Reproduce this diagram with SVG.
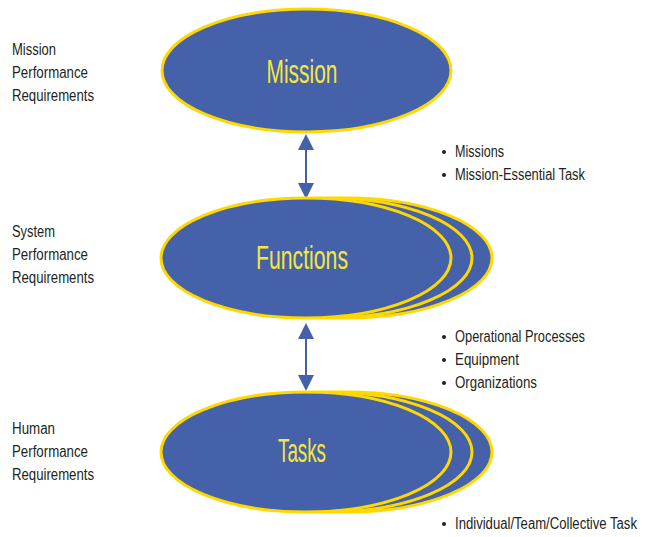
<svg xmlns="http://www.w3.org/2000/svg" width="646" height="537" viewBox="0 0 646 537">
<style>
.el{fill:#4561A9;stroke:#FFD800;stroke-width:3}
.t{font-family:"Liberation Sans",Arial,sans-serif;font-size:33px;fill:#F5E83A;text-anchor:middle}
.lab{font-family:"Liberation Sans",Arial,sans-serif;font-size:16px;fill:#231F20}
.conn{stroke:#4561A9;stroke-width:2;fill:none}
.head{fill:#4561A9}
.dot{fill:#231F20}
</style>
<rect width="646" height="537" fill="#fff"/>
<g id="connectors">
<line class="conn" x1="306" y1="145" x2="306" y2="190"/>
<polygon class="head" points="306,134 298,150 314,150"/>
<polygon class="head" points="306,199 298,183 314,183"/>
<line class="conn" x1="306" y1="335" x2="306" y2="380"/>
<polygon class="head" points="306,323 298,339 314,339"/>
<polygon class="head" points="306,391 298,375 314,375"/>
</g>
<g id="mission">
<ellipse class="el" cx="306.5" cy="70.5" rx="144.5" ry="61.5"/>
<text class="t" x="302" y="83" textLength="71" lengthAdjust="spacingAndGlyphs">Mission</text>
</g>
<g id="functions">
<ellipse class="el" cx="347" cy="258" rx="145" ry="60"/>
<ellipse class="el" cx="327" cy="258" rx="145" ry="60"/>
<ellipse class="el" cx="306" cy="258" rx="145" ry="60"/>
<text class="t" x="302" y="269" textLength="92" lengthAdjust="spacingAndGlyphs">Functions</text>
</g>
<g id="tasks">
<ellipse class="el" cx="347" cy="452" rx="145" ry="60"/>
<ellipse class="el" cx="327" cy="452" rx="145" ry="60"/>
<ellipse class="el" cx="306" cy="452" rx="145" ry="60"/>
<text class="t" x="302" y="462" textLength="48" lengthAdjust="spacingAndGlyphs">Tasks</text>
</g>
<g id="mission-label">
<text class="lab" x="12" y="55" textLength="44" lengthAdjust="spacingAndGlyphs">Mission</text>
<text class="lab" x="12" y="78" textLength="76" lengthAdjust="spacingAndGlyphs">Performance</text>
<text class="lab" x="12" y="101" textLength="82" lengthAdjust="spacingAndGlyphs">Requirements</text>
</g>
<g id="system-label">
<text class="lab" x="12" y="237" textLength="43" lengthAdjust="spacingAndGlyphs">System</text>
<text class="lab" x="12" y="260" textLength="76" lengthAdjust="spacingAndGlyphs">Performance</text>
<text class="lab" x="12" y="283" textLength="82" lengthAdjust="spacingAndGlyphs">Requirements</text>
</g>
<g id="human-label">
<text class="lab" x="12" y="434" textLength="43" lengthAdjust="spacingAndGlyphs">Human</text>
<text class="lab" x="12" y="457" textLength="76" lengthAdjust="spacingAndGlyphs">Performance</text>
<text class="lab" x="12" y="480" textLength="82" lengthAdjust="spacingAndGlyphs">Requirements</text>
</g>
<g id="mission-bullets">
<circle class="dot" cx="444" cy="152" r="2"/>
<text class="lab" x="455" y="157" textLength="49" lengthAdjust="spacingAndGlyphs">Missions</text>
<circle class="dot" cx="444" cy="175" r="2"/>
<text class="lab" x="455" y="180" textLength="130" lengthAdjust="spacingAndGlyphs">Mission-Essential Task</text>
</g>
<g id="function-bullets">
<circle class="dot" cx="444" cy="337" r="2"/>
<text class="lab" x="455" y="342" textLength="130" lengthAdjust="spacingAndGlyphs">Operational Processes</text>
<circle class="dot" cx="444" cy="360" r="2"/>
<text class="lab" x="455" y="365" textLength="64" lengthAdjust="spacingAndGlyphs">Equipment</text>
<circle class="dot" cx="444" cy="383" r="2"/>
<text class="lab" x="455" y="388" textLength="82" lengthAdjust="spacingAndGlyphs">Organizations</text>
</g>
<g id="task-bullets">
<circle class="dot" cx="444" cy="524" r="2"/>
<text class="lab" transform="translate(455,529) scale(0.82,1)" x="0" y="0">Individual/Team/Collective Task</text>
</g>
</svg>
